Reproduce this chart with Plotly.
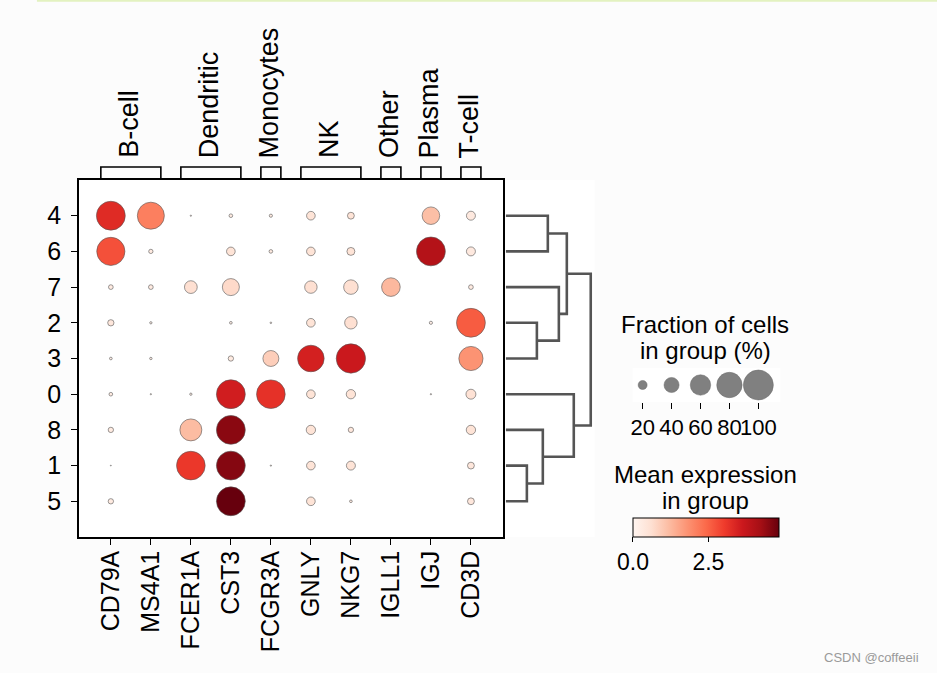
import plotly.graph_objects as go

# ---------------- data ----------------
genes = ['CD79A', 'MS4A1', 'FCER1A', 'CST3', 'FCGR3A', 'GNLY', 'NKG7', 'IGLL1', 'IGJ', 'CD3D']
groups = ['4', '6', '7', '2', '3', '0', '8', '1', '5']  # top -> bottom (dendrogram order)

gene_groups = ['B-cell', 'Dendritic', 'Monocytes', 'NK', 'Other', 'Plasma', 'T-cell']
group_start = [0, 2, 4, 5, 7, 8, 9]
group_end = [1, 3, 4, 6, 7, 8, 9]

# fraction of cells expressing (%) per group (rows) x gene (cols)
frac_4 = [95, 87, 1.5, 6, 5, 19, 14, 0, 49, 20]
frac_6 = [92, 7.5, 0, 19, 6, 19, 17, 0, 95, 20]
frac_7 = [8.5, 8.5, 32, 47, 0, 31, 38, 53, 0, 8.5]
frac_2 = [12.5, 3.3, 0, 4, 2, 19, 31, 0, 5, 95]
frac_3 = [4, 3.5, 0, 10, 43, 85, 97, 0, 0, 75]
frac_0 = [6, 1.5, 3.3, 95, 94, 19, 21, 0, 1.5, 23]
frac_8 = [10, 0, 66, 95, 0, 21, 10, 0, 0, 21]
frac_1 = [1, 0, 94, 95, 1.5, 19, 20, 0, 0, 14]
frac_5 = [10, 0, 0, 95, 0, 19, 4, 0, 0, 14]

# mean expression in group
mean_4 = [3.3, 2.1, 0.2, 0.3, 0.3, 0.5, 0.5, 0, 1.15, 0.35]
mean_6 = [2.75, 0.3, 0, 0.5, 0.3, 0.5, 0.5, 0, 4.0, 0.35]
mean_7 = [0.3, 0.3, 0.6, 0.7, 0, 0.6, 0.6, 1.25, 0, 0.3]
mean_2 = [0.4, 0.2, 0, 0.2, 0.2, 0.5, 0.6, 0, 0.2, 2.6]
mean_3 = [0.2, 0.2, 0, 0.3, 0.9, 3.5, 3.65, 0, 0, 1.8]
mean_0 = [0.3, 0.2, 0.2, 3.55, 3.2, 0.5, 0.5, 0, 0.2, 0.55]
mean_8 = [0.3, 0, 1.2, 4.5, 0, 0.5, 0.4, 0, 0, 0.5]
mean_1 = [0.2, 0, 3.1, 4.55, 0.2, 0.5, 0.5, 0, 0, 0.4]
mean_5 = [0.3, 0, 0, 4.84, 0, 0.5, 0.3, 0, 0, 0.4]

frac_rows = [frac_4, frac_6, frac_7, frac_2, frac_3, frac_0, frac_8, frac_1, frac_5]
mean_rows = [mean_4, mean_6, mean_7, mean_2, mean_3, mean_0, mean_8, mean_1, mean_5]

color_max = 4.84
size_legend_vals = [20, 40, 60, 80, 100]
colorbar_ticks = [0.0, 2.5]

# dendrogram linkage: [left node, right node, height]; leaves = row index 0..8
dendro_links = [[7, 8, 0.247], [3, 4, 0.365], [6, 9, 0.435], [0, 1, 0.494],
                [2, 10, 0.624], [12, 13, 0.718], [5, 11, 0.80], [14, 15, 1.0]]

# ---------------- styling / layout helpers ----------------
W, H = 937, 673
FONT = 'Liberation Sans, Arial, sans-serif'
FS_TICK = 25      # main axis tick labels
FS_GROUP = 27     # gene-group labels
FS_LEG = 24       # legend titles
FS_LEGTICK = 22   # legend tick labels
reds = ['#fff5f0', '#fee0d2', '#fcbba1', '#fc9272', '#fb6a4a', '#ef3b2c', '#cb181d', '#a50f15', '#67000d']
reds_scale = [[i / (len(reds) - 1), c] for i, c in enumerate(reds)]


def pxx(p):
    return p / W


def pxy(p):
    return 1 - p / H


MAX_D = 30.0  # diameter in px of a 100% dot


def dot_size(f):
    return MAX_D * (f / 100.0) ** 0.75


fig = go.Figure()

# ---------------- main dot plot ----------------
xs, ys, ss, cs, hov = [], [], [], [], []
for r, (fr, mr) in enumerate(zip(frac_rows, mean_rows)):
    for c, (f, m) in enumerate(zip(fr, mr)):
        if f > 0:
            xs.append(c)
            ys.append(r)
            ss.append(dot_size(f))
            cs.append(m)
            hov.append(f'{groups[r]} / {genes[c]}<br>frac {f}%<br>mean {m}')

fig.add_trace(go.Scatter(
    x=xs, y=ys, mode='markers', xaxis='x', yaxis='y',
    text=hov, hoverinfo='text',
    marker=dict(size=ss, sizemode='diameter', color=cs, colorscale=reds_scale,
                cmin=0, cmax=color_max, opacity=1,
                line=dict(color='#555555', width=0.6),
                showscale=True,
                colorbar=dict(orientation='h', x=pxx(632.3), xanchor='left',
                              y=pxy(518.3), yanchor='top',
                              len=146, lenmode='pixels', thickness=19, thicknessmode='pixels',
                              xpad=0, ypad=0, outlinewidth=1, outlinecolor='black',
                              tickvals=colorbar_ticks,
                              ticktext=[f'{v:.1f}' for v in colorbar_ticks],
                              ticks='outside', ticklen=5, tickwidth=1, tickcolor='black',
                              tickfont=dict(size=FS_LEGTICK + 1, color='black', family=FONT))),
    showlegend=False))

# ---------------- dendrogram ----------------
n_leaves = len(groups)
node_pos = {i: float(i) for i in range(n_leaves)}
node_h = {i: 0.0 for i in range(n_leaves)}
dx, dy = [], []
for k, (a, b, h) in enumerate(dendro_links):
    nid = n_leaves + k
    dx += [node_h[a], h, h, node_h[b], None]
    dy += [node_pos[a], node_pos[a], node_pos[b], node_pos[b], None]
    node_pos[nid] = (node_pos[a] + node_pos[b]) / 2
    node_h[nid] = h

fig.add_trace(go.Scatter(x=dx, y=dy, mode='lines', xaxis='x2', yaxis='y2',
                         line=dict(color='#555555', width=2.6), hoverinfo='skip',
                         showlegend=False))

# ---------------- size legend ----------------
fig.add_trace(go.Scatter(x=size_legend_vals, y=[0] * len(size_legend_vals), mode='markers',
                         xaxis='x3', yaxis='y3',
                         marker=dict(size=[dot_size(v) for v in size_legend_vals],
                                     sizemode='diameter', color='#808080', opacity=1,
                                     line=dict(color='#6a6a6a', width=0.5)),
                         hoverinfo='skip', showlegend=False))

# ---------------- axes ----------------
y_dom = [pxy(537), pxy(180)]
y_range = [n_leaves, -1]
hidden = dict(showticklabels=False, showline=False, showgrid=False, zeroline=False, ticks='')

layout = dict(
    width=W, height=H, margin=dict(l=0, r=0, t=0, b=0),
    paper_bgcolor='#fcfcfc', plot_bgcolor='white',
    font=dict(family=FONT, size=FS_TICK, color='black'),
    xaxis=dict(domain=[pxx(77), pxx(502)], range=[-0.8, len(genes) - 0.2],
               tickvals=list(range(len(genes))), ticktext=genes, tickangle=-90,
               ticks='outside', ticklen=6, tickwidth=1.2, tickcolor='black',
               showline=True, mirror=True, linecolor='black', linewidth=1.5,
               showgrid=False, zeroline=False, anchor='y', ticklabelstandoff=-4,
               tickfont=dict(size=FS_TICK, color='black', family=FONT)),
    yaxis=dict(domain=y_dom, range=y_range,
               tickvals=list(range(n_leaves)), ticktext=groups,
               ticks='outside', ticklen=6, tickwidth=1.2, tickcolor='black',
               showline=True, mirror=True, linecolor='black', linewidth=1.5,
               showgrid=False, zeroline=False, anchor='x', ticklabelstandoff=5,
               tickfont=dict(size=FS_TICK, color='black', family=FONT)),
    xaxis2=dict(domain=[pxx(502), pxx(594)], range=[-3 / 85, 89 / 85], anchor='y2', **hidden),
    yaxis2=dict(domain=y_dom, range=y_range, anchor='x2', **hidden),
    xaxis3=dict(domain=[pxx(632), pxx(780)], range=[13.1, 115.2], anchor='y3',
                showline=False, showgrid=False, zeroline=False, tickangle=0,
                tickvals=size_legend_vals, ticks='outside', ticklen=6, tickwidth=1,
                tickcolor='black', tickfont=dict(size=FS_LEGTICK, color='black', family=FONT)),
    yaxis3=dict(domain=[pxy(402), pxy(368)], range=[-1, 1], anchor='x3', **hidden),
)
fig.update_layout(**layout)

# ---------------- gene group brackets and labels ----------------
shapes = []
annotations = []
yb, yt = pxy(180), pxy(167)
for name, s, e in zip(gene_groups, group_start, group_end):
    x0, x1 = s - 0.25, e + 0.25
    shapes.append(dict(type='path', xref='x', yref='paper',
                       path=f'M {x0},{yb} L {x0},{yt} L {x1},{yt} L {x1},{yb}',
                       line=dict(color='black', width=1.6)))
    annotations.append(dict(x=(s + e) / 2 - 0.05, y=pxy(160), xref='x', yref='paper',
                            text=name, textangle=-90, showarrow=False,
                            xanchor='center', yanchor='bottom',
                            font=dict(size=FS_GROUP, color='black', family=FONT)))

# top page border line (screenshot frame)
shapes.append(dict(type='line', xref='paper', yref='paper', x0=pxx(35), x1=1, y0=pxy(0.8), y1=pxy(0.8),
                   line=dict(color='#e3f2c0', width=2)))

# legend titles
for txt, yy in [('Fraction of cells', 324), ('in group (%)', 350),
                ('Mean expression', 474), ('in group', 500)]:
    annotations.append(dict(x=pxx(705), y=pxy(yy), xref='paper', yref='paper', text=txt,
                            showarrow=False, xanchor='center', yanchor='middle',
                            font=dict(size=FS_LEG, color='black', family=FONT)))

annotations.append(dict(x=pxx(921), y=pxy(657), xref='paper', yref='paper', text='CSDN @coffeeii',
                        showarrow=False, xanchor='right', yanchor='middle',
                        font=dict(size=13, color='#9a9a9a', family=FONT)))

fig.update_layout(shapes=shapes, annotations=annotations)

fig.write_html('out.html', config={'displayModeBar': False},
               post_script="document.body.style.margin='0';document.body.style.overflow='hidden';")
